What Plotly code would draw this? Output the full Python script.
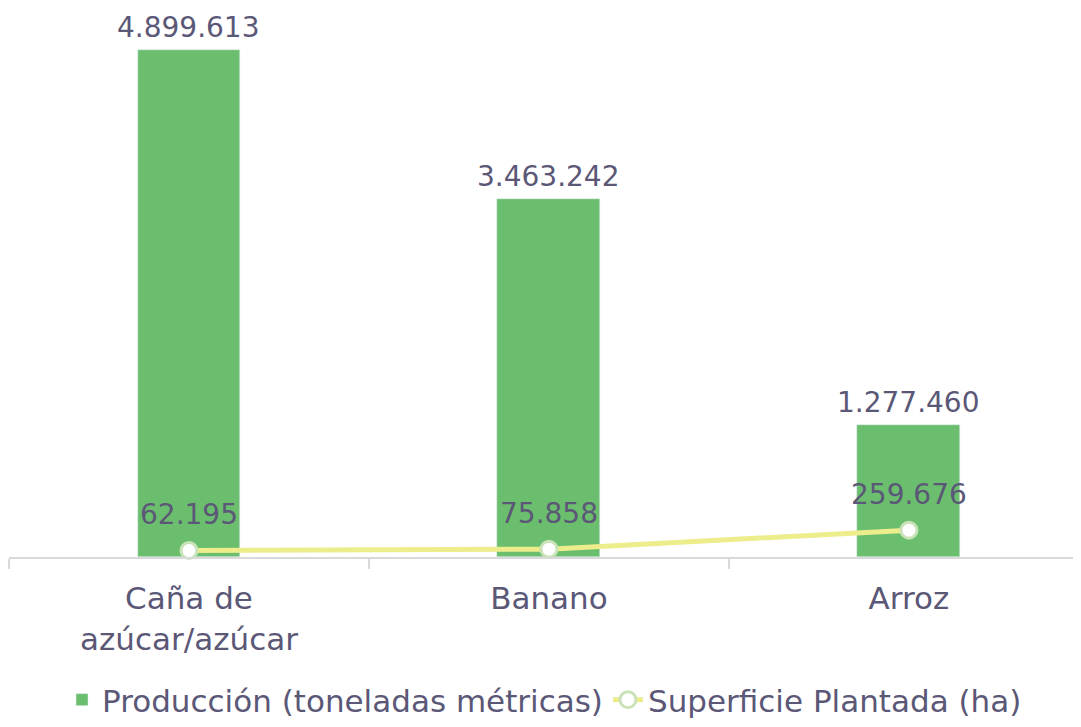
import plotly.graph_objects as go

categories = ["Caña de<br>azúcar/azúcar", "Banano", "Arroz"]
produccion = [4899613, 3463242, 1277460]
superficie = [62195, 75858, 259676]
produccion_labels = ["4.899.613", "3.463.242", "1.277.460"]
superficie_labels = ["62.195", "75.858", "259.676"]

TEXT = "#5B5877"
FONT = "DejaVu Sans"

fig = go.Figure()
fig.add_trace(go.Bar(
    x=categories, y=produccion, name="Producción (toneladas métricas)",
    marker_color="#6BBE6E", width=0.286,
))
fig.add_trace(go.Scatter(
    x=categories, y=superficie, name="Superficie Plantada (ha)",
    mode="lines+markers",
    line=dict(color="#EDED8C", width=5),
    marker=dict(size=16, color="white", line=dict(color="#C9E2B8", width=3)),
    cliponaxis=False,
))

annotations = []
for c, v, t in zip(categories, produccion, produccion_labels):
    annotations.append(dict(x=c, y=v, text=t, showarrow=False, yanchor="bottom",
                            yshift=5, borderpad=0,
                            font=dict(size=28, color=TEXT, family=FONT)))
for c, v, t in zip(categories, superficie, superficie_labels):
    annotations.append(dict(x=c, y=v, text=t, showarrow=False, yanchor="middle",
                            yshift=36, borderpad=0,
                            font=dict(size=28, color=TEXT, family=FONT)))

fig.update_layout(
    width=1073, height=719,
    margin=dict(l=1, r=0, t=12, b=170),
    plot_bgcolor="white", paper_bgcolor="white",
    font=dict(family=FONT, color=TEXT, size=31),
    showlegend=True,
    legend=dict(orientation="h", x=0.5, xanchor="center", xref="container",
                y=-0.012, yanchor="bottom", yref="container",
                font=dict(size=31, color=TEXT, family=FONT), itemwidth=30,
                tracegroupgap=0),
    bargap=0,
    annotations=annotations,
)
fig.update_xaxes(
    range=[-0.5, 2.478], showline=True, linecolor="#D9D9D9", linewidth=2,
    ticks="outside", tickson="boundaries", ticklen=10, tickcolor="#D9D9D9", tickwidth=2,
    tickfont=dict(size=31, color=TEXT, family=FONT), showgrid=False,
    automargin=False, ticklabelstandoff=13,
)
fig.update_yaxes(range=[0, 5189590], visible=False, showgrid=False, automargin=False)

fig.write_html("out.html")
